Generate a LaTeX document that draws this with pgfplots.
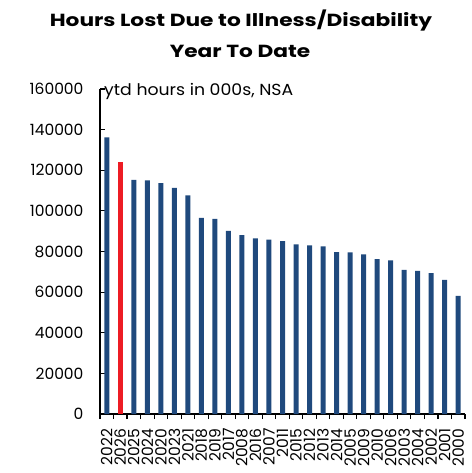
\documentclass[border=0pt]{standalone}
\usepackage{fontspec}
\setmainfont{Poppins}
\usepackage{pgfplots}
\pgfplotsset{compat=1.18}
\definecolor{barblue}{RGB}{31,73,125}
\definecolor{barred}{RGB}{237,28,36}
\begin{document}
\begin{tikzpicture}
\begin{axis}[name=ax, scale only axis, width=365pt, height=325pt,
  xmin=-0.5, xmax=26.5, ymin=0, ymax=160000,
  axis x line*=bottom, axis y line*=left,
  axis line style={line width=1.1pt, black},
  every tick/.style={black, line width=1.1pt},
  tick align=inside,
  major tick length=5pt, minor tick length=5pt,
  ytick={0,20000,...,160000},
  scaled y ticks=false,
  yticklabel={\pgfmathprintnumber[fixed,1000 sep={}]{\tick}},
  xtick={0,...,26},
  xticklabels={2022,2026,2025,2024,2020,2023,2021,2018,2019,2017,2008,2016,2007,2011,2015,2012,2013,2014,2005,2009,2010,2006,2003,2004,2002,2001,2000},
  minor xtick={-0.5,0.5,...,26.5},
  major x tick style={draw=none},
  minor x tick style={yshift=-5pt},
  /pgf/number format/assume math mode=true,
  yticklabel style={font=\fontsize{15.5}{16}\selectfont, anchor=east, xshift=-13pt},
  xticklabel style={font=\fontsize{15.5}{16}\selectfont, rotate=90, anchor=east},
  xticklabel shift=11pt,
  clip=false,
]
\addplot[ybar, bar width=5pt, bar shift=0pt, fill=barblue, draw=none] coordinates {
(0,136200) (2,115200) (3,115000) (4,113700) (5,111300) (6,107600) (7,96500) (8,96100) (9,90100) (10,88100) (11,86500) (12,85800) (13,85100) (14,83500) (15,83000) (16,82500) (17,79700) (18,79600) (19,78600) (20,76300) (21,75600) (22,70900) (23,70500) (24,69300) (25,66000) (26,58100)
};
\addplot[ybar, bar width=5pt, bar shift=0pt, fill=barred, draw=none] coordinates {(1,124000)};
\end{axis}
\node[anchor=base west, inner sep=0pt, font=\fontsize{16}{17}\selectfont] at ([xshift=4pt,yshift=-6.3pt]ax.north west) {\scalebox{1.08}[1]{ytd hours in 000s, NSA}};
\node[anchor=base, inner sep=0pt, font=\fontsize{17.5}{20}\selectfont\bfseries] at ([xshift=141pt,yshift=62.5pt]ax.north west) {\scalebox{1.24}[1]{Hours Lost Due to Illness/Disability}};
\node[anchor=base, inner sep=0pt, font=\fontsize{17.5}{20}\selectfont\bfseries] at ([xshift=140pt,yshift=31pt]ax.north west) {\scalebox{1.24}[1]{Year To Date}};
\pgfresetboundingbox
\path ([xshift=-100pt,yshift=-59pt]ax.south west) rectangle ([xshift=6pt,yshift=89pt]ax.north east);
\end{tikzpicture}
\end{document}
